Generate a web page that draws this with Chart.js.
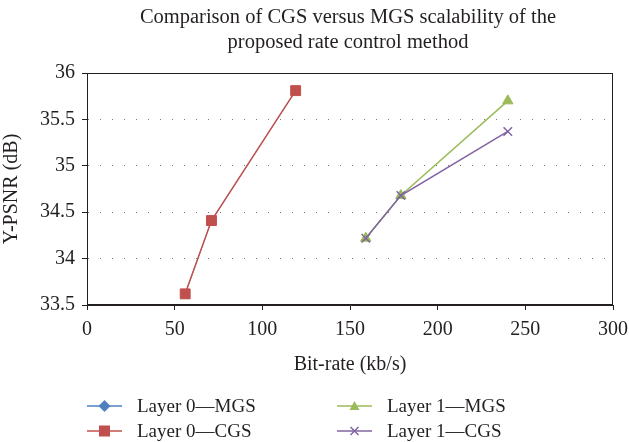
<!DOCTYPE html>
<html>
<head>
<meta charset="utf-8">
<script src="https://cdn.jsdelivr.net/npm/chart.js@4/dist/chart.umd.min.js"></script>
<style>
  html, body { margin: 0; padding: 0; background: #fff; }
  #wrap { position: relative; width: 629px; height: 442px; font-family: "Liberation Serif", "DejaVu Serif", serif; color: #231f20; }
  #chart { position: absolute; left: 0; top: 0; }
  #title { position: absolute; left: 78px; width: 540px; top: 4px; text-align: center; font-size: 20.5px; line-height: 25px; }
  #legend { position: absolute; left: 87px; top: 393px; display: grid; grid-template-rows: 25px 25px; grid-auto-flow: column; grid-template-columns: 250px 250px; font-size: 19px; }
  .item { display: flex; align-items: center; }
  .item svg { margin-right: 15px; }
</style>
</head>
<body>
<div id="wrap">
  <canvas id="chart" width="629" height="442"></canvas>
  <div id="title">Comparison of CGS versus MGS scalability of the<br>proposed rate control method</div>
  <div id="legend"></div>
</div>
<script>
// values
const seriesNames = ['Layer 0—MGS', 'Layer 0—CGS', 'Layer 1—MGS', 'Layer 1—CGS'];
const layer0Rate = [56, 71, 119];
const layer0MGS = [33.62, 34.41, 35.81];
const layer0CGS = [33.62, 34.41, 35.81];
const layer1Rate = [159, 179, 240];
const layer1MGS = [34.22, 34.68, 35.70];
const layer1CGS = [34.22, 34.68, 35.37];
const xTicks = [0, 50, 100, 150, 200, 250, 300];
const yTicks = [33.5, 34, 34.5, 35, 35.5, 36];

const colors = ['#4f81bd', '#c0504d', '#9bbb59', '#8064a2'];
const markers = ['rectRot', 'rect', 'triangle', 'crossRot'];
const radii = [4, 7, 6, 6];

const pts = (xs, ys) => xs.map((x, i) => ({ x, y: ys[i] }));
const seriesData = [
  pts(layer0Rate, layer0MGS),
  pts(layer0Rate, layer0CGS),
  pts(layer1Rate, layer1MGS),
  pts(layer1Rate, layer1CGS)
];
const drawOrder = [4, 3, 2, 1];

const serif = "'Liberation Serif', 'DejaVu Serif', serif";
const ink = '#231f20';

const frame = {
  id: 'frame',
  afterDraw(chart) {
    const { ctx, chartArea: a } = chart;
    ctx.save();
    ctx.strokeStyle = ink;
    ctx.lineWidth = 1;
    ctx.strokeRect(a.left + 0.5, a.top + 0.5, a.right - a.left - 1, a.bottom - a.top - 1);
    ctx.restore();
  }
};

const chart = new Chart(document.getElementById('chart'), {
  type: 'line',
  data: {
    datasets: seriesNames.map((name, i) => ({
      label: name,
      data: seriesData[i],
      borderColor: colors[i],
      backgroundColor: colors[i],
      borderWidth: i === 0 ? 0.8 : 1.5,
      pointStyle: markers[i],
      pointRadius: radii[i],
      pointBorderWidth: i === 3 ? 1.5 : (i === 0 ? 0 : 1),
      pointBackgroundColor: colors[i],
      pointBorderColor: colors[i],
      order: drawOrder[i],
      tension: 0
    }))
  },
  options: {
    responsive: false,
    animation: false,
    layout: { padding: { top: 73, right: 16, bottom: 61, left: 0 } },
    plugins: { legend: { display: false }, title: { display: false }, tooltip: { enabled: false } },
    scales: {
      x: {
        type: 'linear',
        min: 0, max: 300,
        afterBuildTicks: s => { s.ticks = xTicks.map(v => ({ value: v })); },
        afterFit: s => { s.height = 76; s.paddingLeft = 0; s.paddingRight = 0; },
        grid: { drawOnChartArea: false, color: ink, tickColor: ink, tickLength: 5 },
        border: { color: ink },
        ticks: { color: ink, font: { family: serif, size: 20 }, padding: 8, maxRotation: 0, callback: v => String(v) },
        title: { display: true, text: 'Bit-rate (kb/s)', color: ink, font: { family: serif, size: 20 }, padding: { top: 0, bottom: 4 } }
      },
      y: {
        min: 33.5, max: 36,
        afterBuildTicks: s => { s.ticks = yTicks.map(v => ({ value: v })); },
        afterFit: s => { s.width = 87; },
        grid: {
          color: c => (c.tick && (c.tick.value === 33.5 || c.tick.value === 36)) ? 'rgba(0,0,0,0)' : '#777',
          tickColor: ink, tickLength: 5, tickBorderDash: []
        },
        border: { color: ink, dash: [1, 11] },
        ticks: { color: ink, font: { family: serif, size: 20 }, padding: 7, callback: v => String(v) },
        title: { display: true, text: 'Y-PSNR (dB)', color: ink, font: { family: serif, size: 20 }, padding: { top: 0, bottom: 6 } }
      }
    }
  },
  plugins: [frame]
});

// legend built from the datasets
function markerSvg(i) {
  const c = colors[i];
  let m = '';
  if (markers[i] === 'rectRot') m = `<polygon points="17.5,2 23.5,8 17.5,14 11.5,8" fill="${c}"/>`;
  else if (markers[i] === 'rect') m = `<rect x="12" y="2.5" width="11" height="11" fill="${c}"/>`;
  else if (markers[i] === 'triangle') m = `<polygon points="17.5,3 22.5,12 12.5,12" fill="${c}"/>`;
  else m = `<path d="M13.5 4 L21.5 12 M21.5 4 L13.5 12" stroke="${c}" stroke-width="1.5"/>`;
  return `<svg width="35" height="16"><line x1="0" y1="8" x2="35" y2="8" stroke="${c}" stroke-width="1.5"/>${m}</svg>`;
}
document.getElementById('legend').innerHTML = chart.data.datasets
  .map((d, i) => `<div class="item">${markerSvg(i)}<span>${d.label}</span></div>`).join('');
</script>
</body>
</html>
